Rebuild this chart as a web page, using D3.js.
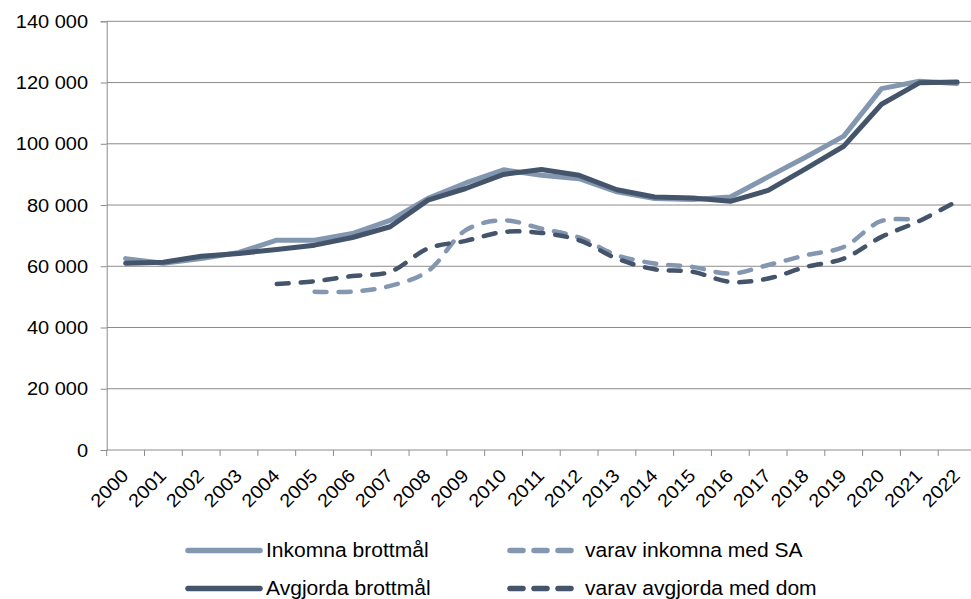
<!DOCTYPE html>
<html>
<head>
<meta charset="utf-8">
<script src="https://cdn.jsdelivr.net/npm/d3@7"></script>
<style>
  html, body { margin: 0; padding: 0; background: #fff; }
  svg { display: block; font-family: "Liberation Sans", Arial, sans-serif; }
</style>
</head>
<body>
<svg id="chart" width="971" height="599"></svg>
<script>
const years = ["2000","2001","2002","2003","2004","2005","2006","2007","2008","2009","2010","2011","2012","2013","2014","2015","2016","2017","2018","2019","2020","2021","2022"];
const inkomna  = [62500,61000,62500,64500,68500,68500,70700,75000,82200,87200,91500,89700,88600,84300,82100,81800,82600,89200,95700,102500,118000,120400,119700];
const avgjorda = [61000,61300,63300,64200,65500,66900,69400,72900,81600,85400,90000,91600,89700,85000,82600,82300,81200,84800,91900,99200,112900,119900,120200];
const inkomnaSA = [null,null,null,null,null,51700,51700,53600,58400,71800,75000,72300,69400,63600,60900,59800,57600,60400,63600,66300,74800,75000,null];
const avgjordaDom = [null,null,null,null,54200,55100,56800,58200,65800,68300,71200,70900,68500,62500,59000,58200,54900,56000,59800,62500,69600,74800,81300];
const yTicks = [0,20000,40000,60000,80000,100000,120000,140000];
const legendLabels = ["Inkomna brottmål","varav inkomna med SA","Avgjorda brottmål","varav avgjorda med dom"];

const LIGHT = "#8497b0", DARK = "#44546a", GRID = "#8c8c8c";
const svg = d3.select("#chart");
const pLeft = 106.7, pRight = 976, pTop = 21.3, pBottom = 450;
const x = d3.scaleBand().domain(years).range([pLeft, pRight]);
const y = d3.scaleLinear().domain([0, 140000]).range([pBottom, pTop]);
const fmt = d3.formatLocale({decimal: ",", thousands: " ", grouping: [3], currency: ["", ""]}).format(",d");
const SX = 1.08;

// gridlines
svg.append("g").selectAll("line").data(yTicks.filter(d => d > 0)).join("line")
  .attr("x1", pLeft).attr("x2", 971).attr("y1", d => y(d)).attr("y2", d => y(d))
  .attr("stroke", GRID).attr("stroke-width", 1);

// y axis
const yAxis = svg.append("g").attr("transform", `translate(${pLeft},0)`)
  .call(d3.axisLeft(y).tickValues(yTicks).tickSize(6).tickPadding(0).tickFormat(""));
yAxis.select(".domain").attr("stroke", GRID);
yAxis.selectAll(".tick line").attr("stroke", GRID);
svg.append("g").selectAll("g").data(yTicks).join("g")
  .attr("transform", d => `translate(88,${y(d) + 6.5}) scale(${SX},1)`)
  .append("text").attr("text-anchor", "end").attr("font-size", 18.5).attr("fill", "#000")
  .text(d => fmt(d));

// x axis
svg.append("line").attr("x1", pLeft).attr("x2", 971).attr("y1", pBottom).attr("y2", pBottom)
  .attr("stroke", GRID).attr("stroke-width", 1.2);
svg.append("g").selectAll("line").data(years).join("line")
  .attr("x1", d => x(d)).attr("x2", d => x(d)).attr("y1", pBottom).attr("y2", pBottom + 6)
  .attr("stroke", GRID);
svg.append("g").selectAll("g").data(years).join("g")
  .attr("transform", d => `translate(${x(d) + x.bandwidth() / 2 + 4},477) rotate(-45) scale(${SX},1)`)
  .append("text").attr("text-anchor", "end").attr("font-size", 18.5).attr("fill", "#000")
  .text(d => d);

// lines
const cx = (d, i) => x(years[i]) + x.bandwidth() / 2;
const series = [
  {vals: inkomna, color: LIGHT, dash: null, curve: d3.curveLinear},
  {vals: inkomnaSA, color: LIGHT, dash: "12,12", curve: d3.curveCatmullRom},
  {vals: avgjorda, color: DARK, dash: null, curve: d3.curveLinear},
  {vals: avgjordaDom, color: DARK, dash: "12,12", curve: d3.curveCatmullRom}
];
series.forEach(s => {
  const line = d3.line().defined(d => d != null).x(cx).y(d => y(d)).curve(s.curve);
  svg.append("path").attr("d", line(s.vals))
    .attr("fill", "none").attr("stroke", s.color).attr("stroke-width", s.dash ? 4.5 : 5)
    .attr("stroke-linecap", "round").attr("stroke-linejoin", "round")
    .attr("stroke-dasharray", s.dash);
});

// legend
const legendItems = [
  {label: legendLabels[0], color: LIGHT, dash: null, lx: 188, tx: 266, ly: 550.5},
  {label: legendLabels[1], color: LIGHT, dash: "13,11", lx: 510, tx: 585, ly: 550.5},
  {label: legendLabels[2], color: DARK, dash: null, lx: 188, tx: 266, ly: 588.5},
  {label: legendLabels[3], color: DARK, dash: "13,11", lx: 510, tx: 585, ly: 588.5}
];
const lg = svg.append("g").selectAll("g").data(legendItems).join("g");
lg.append("line")
  .attr("x1", d => d.lx).attr("x2", d => d.dash ? d.lx + 62 : d.lx + 72)
  .attr("y1", d => d.ly).attr("y2", d => d.ly)
  .attr("stroke", d => d.color).attr("stroke-width", 5.5)
  .attr("stroke-linecap", "round").attr("stroke-dasharray", d => d.dash);
lg.append("g").attr("transform", d => `translate(${d.tx},${d.ly + 6.5}) scale(${SX},1)`)
  .append("text").attr("font-size", 19.5).attr("fill", "#000").text(d => d.label);
</script>
</body>
</html>
